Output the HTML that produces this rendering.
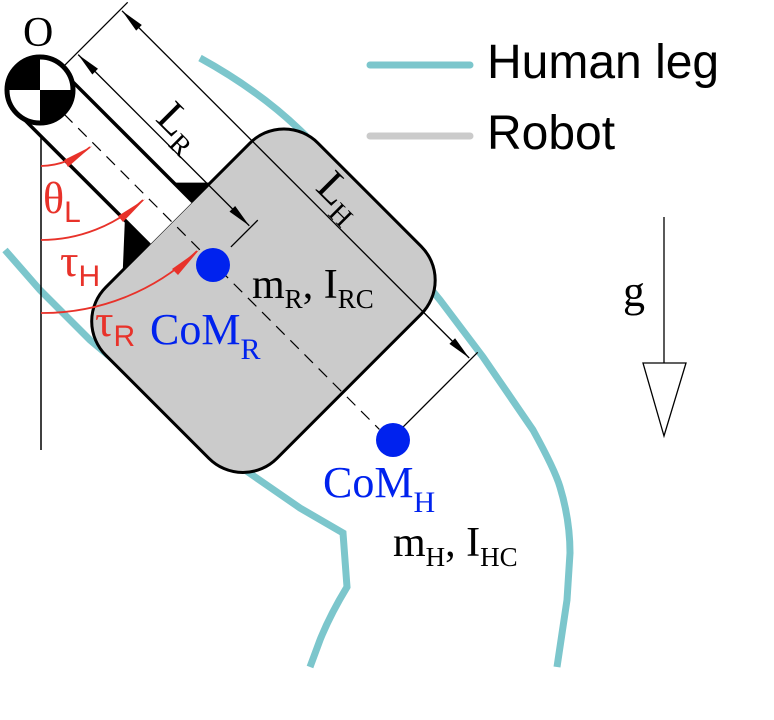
<!DOCTYPE html>
<html><head><meta charset="utf-8">
<style>
html,body{margin:0;padding:0;background:#fff;}
svg{display:block;}
.serif{font-family:"Liberation Serif",serif;}
.sans{font-family:"Liberation Sans",sans-serif;}
</style></head>
<body>
<svg width="774" height="720" viewBox="0 0 774 720" xmlns="http://www.w3.org/2000/svg">
  <rect width="774" height="720" fill="#fff"/>
  <path d="M200,58 C240,80 275,105 305,135 L440,300 L483,357 L533,430 Q555,470 560,487 Q570,520 570,553 L567,600 L557,667" fill="none" stroke="#7cc6cc" stroke-width="7"/>
  <path d="M5,250 L40,290 L90,340 L245,470 L300,508 L343,533 L347,587 Q330,615 320,640 L310,667" fill="none" stroke="#7cc6cc" stroke-width="7"/>
  <line x1="41" y1="120" x2="41" y2="450" stroke="#000" stroke-width="1.5"/>
  <g transform="translate(40,90) rotate(45)">
    <rect x="186" y="-159" width="242" height="300" rx="48" fill="#cbcbcb" stroke="#000" stroke-width="3"/>
    <rect x="0" y="-29" width="187" height="61" fill="#fff"/>
    <line x1="10" y1="-29" x2="187" y2="-29" stroke="#000" stroke-width="3.5"/>
    <line x1="10" y1="32" x2="187" y2="32" stroke="#000" stroke-width="3.5"/>
    <polygon points="160,-29 187,-29 187,-56" fill="#000"/>
    <polygon points="152,32 187,32 187,70" fill="#000"/>
    <line x1="34" y1="0" x2="480" y2="0" stroke="#000" stroke-width="1.2" stroke-dasharray="12,8"/>
    <line x1="0" y1="-34" x2="0" y2="-124" stroke="#000" stroke-width="1.3"/>
    <line x1="246" y1="-24" x2="246" y2="-62" stroke="#000" stroke-width="1.3"/>
    <line x1="495" y1="-18" x2="495" y2="-124" stroke="#000" stroke-width="1.3"/>
    <line x1="2" y1="-52" x2="244" y2="-52" stroke="#000" stroke-width="1.3"/>
    <polygon points="2,-52 26,-56 26,-48" fill="#000"/>
    <polygon points="244,-52 220,-56 220,-48" fill="#000"/>
    <line x1="2" y1="-114" x2="493" y2="-114" stroke="#000" stroke-width="1.3"/>
    <polygon points="2,-114 26,-118 26,-110" fill="#000"/>
    <polygon points="493,-114 469,-118 469,-110" fill="#000"/>
    <text class="serif" x="102" y="-60" font-size="44">L<tspan font-size="28" dy="9">R</tspan></text>
    <text class="serif" x="264" y="-124" font-size="44">L<tspan font-size="28" dy="9">H</tspan></text>
  </g>
  <g fill="none" stroke="#e8322a" stroke-width="1.8">
    <path d="M41,166 A76,76 0 0 0 90,147"/>
    <path d="M41,240 A150,150 0 0 0 143,200"/>
    <path d="M41,313 A223,223 0 0 0 197,251"/>
  </g>
  <g fill="#e8322a">
    <polygon points="92,146 64,160 68,167"/>
    <polygon points="145,199 118,216 123,222"/>
    <polygon points="199,250 172,269 178,275"/>
  </g>
  <g>
    <circle cx="40" cy="90" r="33" fill="#fff"/>
    <path d="M40,90 L7,90 A33,33 0 0 1 40,57 Z" fill="#000"/>
    <path d="M40,90 L73,90 A33,33 0 0 1 40,123 Z" fill="#000"/>
    <circle cx="40" cy="90" r="33" fill="none" stroke="#000" stroke-width="5"/>
  </g>
  <text class="serif" x="23" y="46" font-size="42">O</text>
  <circle cx="213" cy="265" r="17" fill="#0022ee"/>
  <circle cx="393" cy="440" r="17" fill="#0022ee"/>
  <text x="43" y="213" font-size="44" fill="#e8322a"><tspan class="serif">θ</tspan><tspan class="sans" font-size="30" dy="9">L</tspan></text>
  <text x="60" y="276" font-size="46" fill="#e8322a"><tspan class="serif">τ</tspan><tspan class="sans" font-size="30" dy="10">H</tspan></text>
  <text x="95" y="336" font-size="46" fill="#e8322a"><tspan class="serif">τ</tspan><tspan class="sans" font-size="30" dy="10">R</tspan></text>
  <text class="serif" x="150" y="344" font-size="44" fill="#0022ee">CoM<tspan font-size="30" dy="15">R</tspan></text>
  <text class="serif" x="252" y="298" font-size="42">m<tspan font-size="27" dy="10">R</tspan><tspan dy="-10">, I</tspan><tspan font-size="27" dy="10">RC</tspan></text>
  <text class="serif" x="323" y="497" font-size="44" fill="#0022ee">CoM<tspan font-size="30" dy="15">H</tspan></text>
  <text class="serif" x="393" y="556" font-size="42">m<tspan font-size="27" dy="10">H</tspan><tspan dy="-10">, I</tspan><tspan font-size="27" dy="10">HC</tspan></text>
  <line x1="664" y1="217" x2="664" y2="363" stroke="#000" stroke-width="1.3"/>
  <polygon points="643,363 686,363 664,436" fill="#fff" stroke="#000" stroke-width="1.3"/>
  <text class="serif" x="623" y="306" font-size="44">g</text>
  <g>
    <line x1="370" y1="65" x2="470" y2="65" stroke="#7cc6cc" stroke-width="7" stroke-linecap="round"/>
    <text class="sans" x="487" y="78" font-size="48">Human leg</text>
    <line x1="370" y1="136" x2="470" y2="136" stroke="#cbcbcb" stroke-width="7" stroke-linecap="round"/>
    <text class="sans" x="487" y="149" font-size="48">Robot</text>
  </g>
</svg>
</body></html>
